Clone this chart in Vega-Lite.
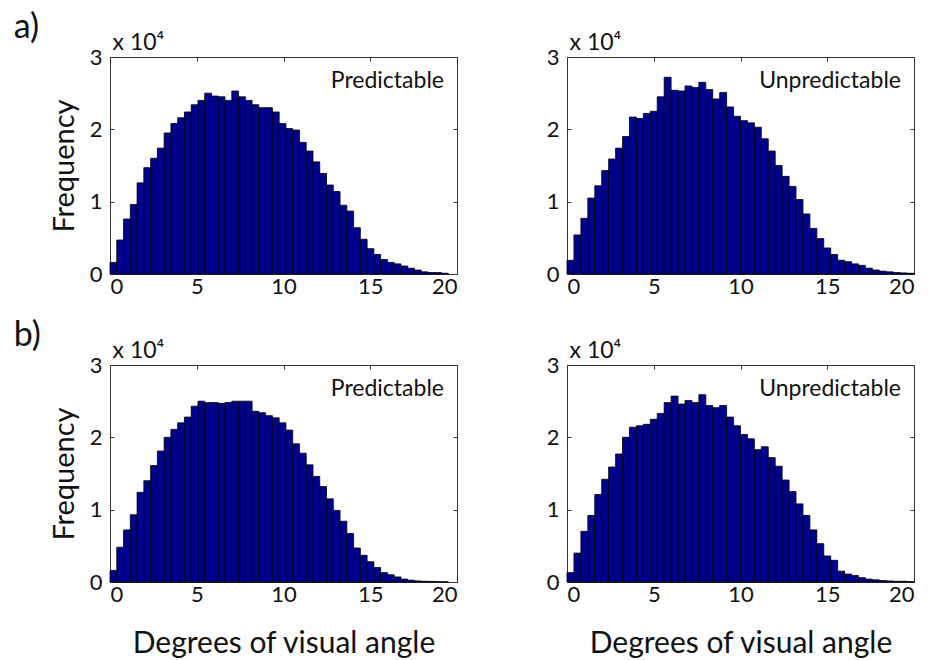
{
  "$schema": "https://vega.github.io/schema/vega-lite/v6.json",
  "padding": {"left": 13, "top": 10, "right": 5, "bottom": 0},
  "background": "white",
  "config": {
    "font": "Lato",
    "view": {"stroke": "#333333", "strokeWidth": 1},
    "axis": {"grid": false, "domain": false, "labelFont": "Lato", "labelFontSize": 22, "labelColor": "#111111", "tickColor": "#333333", "tickSize": -4, "titleFont": "Lato", "titleFontSize": 29, "titleFontWeight": "normal", "titleColor": "#111111"},
    "text": {"font": "Lato", "color": "#111111", "baseline": "alphabetic"}
  },
  "datasets": {
    "aP": [
      {"lo":0.0,"hi":0.39,"count":1600},{"lo":0.39,"hi":0.78,"count":4700},{"lo":0.78,"hi":1.17,"count":7600},{"lo":1.17,"hi":1.56,"count":9600},{"lo":1.56,"hi":1.95,"count":12600},
      {"lo":1.95,"hi":2.34,"count":14700},{"lo":2.34,"hi":2.73,"count":16000},{"lo":2.73,"hi":3.12,"count":17400},{"lo":3.12,"hi":3.51,"count":19500},{"lo":3.51,"hi":3.9,"count":20800},
      {"lo":3.9,"hi":4.29,"count":21600},{"lo":4.29,"hi":4.68,"count":22400},{"lo":4.68,"hi":5.07,"count":23400},{"lo":5.07,"hi":5.46,"count":24000},{"lo":5.46,"hi":5.85,"count":25000},
      {"lo":5.85,"hi":6.24,"count":24600},{"lo":6.24,"hi":6.63,"count":24500},{"lo":6.63,"hi":7.02,"count":24000},{"lo":7.02,"hi":7.41,"count":25300},{"lo":7.41,"hi":7.8,"count":24500},
      {"lo":7.8,"hi":8.19,"count":24000},{"lo":8.19,"hi":8.58,"count":23400},{"lo":8.58,"hi":8.97,"count":23000},{"lo":8.97,"hi":9.36,"count":23000},{"lo":9.36,"hi":9.75,"count":22400},
      {"lo":9.75,"hi":10.14,"count":20800},{"lo":10.14,"hi":10.53,"count":20100},{"lo":10.53,"hi":10.92,"count":19900},{"lo":10.92,"hi":11.31,"count":18200},{"lo":11.31,"hi":11.7,"count":17000},
      {"lo":11.7,"hi":12.09,"count":15500},{"lo":12.09,"hi":12.48,"count":13900},{"lo":12.48,"hi":12.87,"count":12300},{"lo":12.87,"hi":13.26,"count":11400},{"lo":13.26,"hi":13.65,"count":9500},
      {"lo":13.65,"hi":14.04,"count":8700},{"lo":14.04,"hi":14.43,"count":6400},{"lo":14.43,"hi":14.82,"count":4800},{"lo":14.82,"hi":15.21,"count":3500},{"lo":15.21,"hi":15.6,"count":2700},
      {"lo":15.6,"hi":15.99,"count":2000},{"lo":15.99,"hi":16.38,"count":1600},{"lo":16.38,"hi":16.77,"count":1400},{"lo":16.77,"hi":17.16,"count":1100},{"lo":17.16,"hi":17.55,"count":800},
      {"lo":17.55,"hi":17.94,"count":550},{"lo":17.94,"hi":18.33,"count":300},{"lo":18.33,"hi":18.72,"count":200},{"lo":18.72,"hi":19.11,"count":200},{"lo":19.11,"hi":19.5,"count":100}
    ],
    "aU": [
      {"lo":0.0,"hi":0.4,"count":1900},{"lo":0.4,"hi":0.8,"count":5400},{"lo":0.8,"hi":1.2,"count":7700},{"lo":1.2,"hi":1.6,"count":10500},{"lo":1.6,"hi":2.0,"count":12200},
      {"lo":2.0,"hi":2.4,"count":14300},{"lo":2.4,"hi":2.8,"count":15900},{"lo":2.8,"hi":3.2,"count":17400},{"lo":3.2,"hi":3.6,"count":19000},{"lo":3.6,"hi":4.0,"count":21700},
      {"lo":4.0,"hi":4.4,"count":21500},{"lo":4.4,"hi":4.8,"count":22200},{"lo":4.8,"hi":5.2,"count":22500},{"lo":5.2,"hi":5.6,"count":24500},{"lo":5.6,"hi":6.0,"count":27200},
      {"lo":6.0,"hi":6.4,"count":25400},{"lo":6.4,"hi":6.8,"count":25300},{"lo":6.8,"hi":7.2,"count":26000},{"lo":7.2,"hi":7.6,"count":25800},{"lo":7.6,"hi":8.0,"count":26500},
      {"lo":8.0,"hi":8.4,"count":25500},{"lo":8.4,"hi":8.8,"count":24200},{"lo":8.8,"hi":9.2,"count":25100},{"lo":9.2,"hi":9.6,"count":23100},{"lo":9.6,"hi":10.0,"count":21800},
      {"lo":10.0,"hi":10.4,"count":21200},{"lo":10.4,"hi":10.8,"count":20900},{"lo":10.8,"hi":11.2,"count":20300},{"lo":11.2,"hi":11.6,"count":18700},{"lo":11.6,"hi":12.0,"count":17000},
      {"lo":12.0,"hi":12.4,"count":15000},{"lo":12.4,"hi":12.8,"count":13500},{"lo":12.8,"hi":13.2,"count":12100},{"lo":13.2,"hi":13.6,"count":10300},{"lo":13.6,"hi":14.0,"count":8300},
      {"lo":14.0,"hi":14.4,"count":6300},{"lo":14.4,"hi":14.8,"count":4900},{"lo":14.8,"hi":15.2,"count":3600},{"lo":15.2,"hi":15.6,"count":2700},{"lo":15.6,"hi":16.0,"count":1900},
      {"lo":16.0,"hi":16.4,"count":1700},{"lo":16.4,"hi":16.8,"count":1400},{"lo":16.8,"hi":17.2,"count":1200},{"lo":17.2,"hi":17.6,"count":800},{"lo":17.6,"hi":18.0,"count":550},
      {"lo":18.0,"hi":18.4,"count":400},{"lo":18.4,"hi":18.8,"count":300},{"lo":18.8,"hi":19.2,"count":200},{"lo":19.2,"hi":19.6,"count":150},{"lo":19.6,"hi":20.0,"count":100}
    ],
    "bP": [
      {"lo":0.0,"hi":0.39,"count":1600},{"lo":0.39,"hi":0.78,"count":4800},{"lo":0.78,"hi":1.17,"count":7200},{"lo":1.17,"hi":1.56,"count":9300},{"lo":1.56,"hi":1.95,"count":12400},
      {"lo":1.95,"hi":2.34,"count":14000},{"lo":2.34,"hi":2.73,"count":16100},{"lo":2.73,"hi":3.12,"count":18100},{"lo":3.12,"hi":3.51,"count":20000},{"lo":3.51,"hi":3.9,"count":21100},
      {"lo":3.9,"hi":4.29,"count":22000},{"lo":4.29,"hi":4.68,"count":22800},{"lo":4.68,"hi":5.07,"count":24300},{"lo":5.07,"hi":5.46,"count":25000},{"lo":5.46,"hi":5.85,"count":24800},
      {"lo":5.85,"hi":6.24,"count":24800},{"lo":6.24,"hi":6.63,"count":24700},{"lo":6.63,"hi":7.02,"count":24800},{"lo":7.02,"hi":7.41,"count":25000},{"lo":7.41,"hi":7.8,"count":25000},
      {"lo":7.8,"hi":8.19,"count":25000},{"lo":8.19,"hi":8.58,"count":23600},{"lo":8.58,"hi":8.97,"count":23400},{"lo":8.97,"hi":9.36,"count":23000},{"lo":9.36,"hi":9.75,"count":22700},
      {"lo":9.75,"hi":10.14,"count":22000},{"lo":10.14,"hi":10.53,"count":21000},{"lo":10.53,"hi":10.92,"count":19100},{"lo":10.92,"hi":11.31,"count":17800},{"lo":11.31,"hi":11.7,"count":16200},
      {"lo":11.7,"hi":12.09,"count":14600},{"lo":12.09,"hi":12.48,"count":13200},{"lo":12.48,"hi":12.87,"count":11500},{"lo":12.87,"hi":13.26,"count":9900},{"lo":13.26,"hi":13.65,"count":8400},
      {"lo":13.65,"hi":14.04,"count":6700},{"lo":14.04,"hi":14.43,"count":4700},{"lo":14.43,"hi":14.82,"count":3700},{"lo":14.82,"hi":15.21,"count":2800},{"lo":15.21,"hi":15.6,"count":2000},
      {"lo":15.6,"hi":15.99,"count":1300},{"lo":15.99,"hi":16.38,"count":1000},{"lo":16.38,"hi":16.77,"count":700},{"lo":16.77,"hi":17.16,"count":400},{"lo":17.16,"hi":17.55,"count":250},
      {"lo":17.55,"hi":17.94,"count":150},{"lo":17.94,"hi":18.33,"count":100},{"lo":18.33,"hi":18.72,"count":80},{"lo":18.72,"hi":19.11,"count":50},{"lo":19.11,"hi":19.5,"count":30}
    ],
    "bU": [
      {"lo":0.0,"hi":0.4,"count":1300},{"lo":0.4,"hi":0.8,"count":4000},{"lo":0.8,"hi":1.2,"count":7000},{"lo":1.2,"hi":1.6,"count":9200},{"lo":1.6,"hi":2.0,"count":12100},
      {"lo":2.0,"hi":2.4,"count":14200},{"lo":2.4,"hi":2.8,"count":15900},{"lo":2.8,"hi":3.2,"count":17700},{"lo":3.2,"hi":3.6,"count":20000},{"lo":3.6,"hi":4.0,"count":21400},
      {"lo":4.0,"hi":4.4,"count":21600},{"lo":4.4,"hi":4.8,"count":21800},{"lo":4.8,"hi":5.2,"count":22500},{"lo":5.2,"hi":5.6,"count":23300},{"lo":5.6,"hi":6.0,"count":24800},
      {"lo":6.0,"hi":6.4,"count":25700},{"lo":6.4,"hi":6.8,"count":24600},{"lo":6.8,"hi":7.2,"count":25100},{"lo":7.2,"hi":7.6,"count":24800},{"lo":7.6,"hi":8.0,"count":25900},
      {"lo":8.0,"hi":8.4,"count":24400},{"lo":8.4,"hi":8.8,"count":24100},{"lo":8.8,"hi":9.2,"count":24400},{"lo":9.2,"hi":9.6,"count":22800},{"lo":9.6,"hi":10.0,"count":21600},
      {"lo":10.0,"hi":10.4,"count":20400},{"lo":10.4,"hi":10.8,"count":19800},{"lo":10.8,"hi":11.2,"count":18300},{"lo":11.2,"hi":11.6,"count":18700},{"lo":11.6,"hi":12.0,"count":17200},
      {"lo":12.0,"hi":12.4,"count":16000},{"lo":12.4,"hi":12.8,"count":14100},{"lo":12.8,"hi":13.2,"count":12500},{"lo":13.2,"hi":13.6,"count":10800},{"lo":13.6,"hi":14.0,"count":9200},
      {"lo":14.0,"hi":14.4,"count":7200},{"lo":14.4,"hi":14.8,"count":5300},{"lo":14.8,"hi":15.2,"count":3600},{"lo":15.2,"hi":15.6,"count":3000},{"lo":15.6,"hi":16.0,"count":1500},
      {"lo":16.0,"hi":16.4,"count":1100},{"lo":16.4,"hi":16.8,"count":900},{"lo":16.8,"hi":17.2,"count":600},{"lo":17.2,"hi":17.6,"count":400},{"lo":17.6,"hi":18.0,"count":300},
      {"lo":18.0,"hi":18.4,"count":200},{"lo":18.4,"hi":18.8,"count":150},{"lo":18.8,"hi":19.2,"count":100},{"lo":19.2,"hi":19.6,"count":100},{"lo":19.6,"hi":20.0,"count":50}
    ]
  },
  "bounds": "flush",
  "columns": 2,
  "spacing": {"row": 91, "column": 110},
  "concat": [
    {
      "width": 347, "height": 217,
      "layer": [
        {"data": {"name": "aP"}, "mark": {"type": "bar", "fill": "#00008F", "stroke": "#000000", "strokeWidth": 0.8},
         "encoding": {
           "x": {"field": "lo", "type": "quantitative", "scale": {"domain": [0, 20], "nice": false}, "axis": {"values": [0, 5, 10, 15, 20], "title": null, "labelPadding": 6}},
           "x2": {"field": "hi"},
           "y": {"field": "count", "type": "quantitative", "scale": {"domain": [0, 30000], "nice": false}, "axis": {"values": [0, 10000, 20000, 30000], "labelExpr": "datum.value / 10000", "title": "Frequency", "labelPadding": 12, "titlePadding": 10}},
           "y2": {"datum": 0}
         }},
        {"data": {"values": [{"label": "Predictable"}]}, "mark": {"type": "text", "align": "right", "fontSize": 23},
         "encoding": {
           "x": {"datum": 19.25, "type": "quantitative", "axis": {"orient": "top", "labels": false, "title": null, "values": [0, 5, 10, 15, 20]}},
           "y": {"datum": 25700, "type": "quantitative", "axis": {"orient": "right", "labels": false, "title": null, "values": [0, 10000, 20000, 30000]}},
           "text": {"field": "label"}
         }},
        {"data": {"values": [{"label": "x 10⁴", "px": 0.15, "py": 30970}]}, "mark": {"type": "text", "align": "left", "fontSize": 23},
         "encoding": {
           "x": {"field": "px", "type": "quantitative", "axis": null},
           "y": {"field": "py", "type": "quantitative", "axis": null},
           "text": {"field": "label"}
         }},
        {"data": {"values": [{"label": "a)", "px": -5.55, "py": 32600}]}, "mark": {"type": "text", "align": "left", "fontSize": 34},
         "encoding": {
           "x": {"field": "px", "type": "quantitative", "axis": null},
           "y": {"field": "py", "type": "quantitative", "axis": null},
           "text": {"field": "label"}
         }}
      ],
      "resolve": {"axis": {"x": "independent", "y": "independent"}}
    },
    {
      "width": 347, "height": 217,
      "layer": [
        {"data": {"name": "aU"}, "mark": {"type": "bar", "fill": "#00008F", "stroke": "#000000", "strokeWidth": 0.8},
         "encoding": {
           "x": {"field": "lo", "type": "quantitative", "scale": {"domain": [0, 20], "nice": false}, "axis": {"values": [0, 5, 10, 15, 20], "title": null, "labelPadding": 6}},
           "x2": {"field": "hi"},
           "y": {"field": "count", "type": "quantitative", "scale": {"domain": [0, 30000], "nice": false}, "axis": {"values": [0, 10000, 20000, 30000], "labelExpr": "datum.value / 10000", "title": null, "labelPadding": 12}},
           "y2": {"datum": 0}
         }},
        {"data": {"values": [{"label": "Unpredictable"}]}, "mark": {"type": "text", "align": "right", "fontSize": 23},
         "encoding": {
           "x": {"datum": 19.25, "type": "quantitative", "axis": {"orient": "top", "labels": false, "title": null, "values": [0, 5, 10, 15, 20]}},
           "y": {"datum": 25700, "type": "quantitative", "axis": {"orient": "right", "labels": false, "title": null, "values": [0, 10000, 20000, 30000]}},
           "text": {"field": "label"}
         }},
        {"data": {"values": [{"label": "x 10⁴", "px": 0.15, "py": 30970}]}, "mark": {"type": "text", "align": "left", "fontSize": 23},
         "encoding": {
           "x": {"field": "px", "type": "quantitative", "axis": null},
           "y": {"field": "py", "type": "quantitative", "axis": null},
           "text": {"field": "label"}
         }}
      ],
      "resolve": {"axis": {"x": "independent", "y": "independent"}}
    },
    {
      "width": 347, "height": 217,
      "layer": [
        {"data": {"name": "bP"}, "mark": {"type": "bar", "fill": "#00008F", "stroke": "#000000", "strokeWidth": 0.8},
         "encoding": {
           "x": {"field": "lo", "type": "quantitative", "scale": {"domain": [0, 20], "nice": false}, "axis": {"values": [0, 5, 10, 15, 20], "title": "Degrees of visual angle", "titleFontSize": 30, "labelPadding": 6, "titlePadding": 23}},
           "x2": {"field": "hi"},
           "y": {"field": "count", "type": "quantitative", "scale": {"domain": [0, 30000], "nice": false}, "axis": {"values": [0, 10000, 20000, 30000], "labelExpr": "datum.value / 10000", "title": "Frequency", "labelPadding": 12, "titlePadding": 10}},
           "y2": {"datum": 0}
         }},
        {"data": {"values": [{"label": "Predictable"}]}, "mark": {"type": "text", "align": "right", "fontSize": 23},
         "encoding": {
           "x": {"datum": 19.25, "type": "quantitative", "axis": {"orient": "top", "labels": false, "title": null, "values": [0, 5, 10, 15, 20]}},
           "y": {"datum": 25700, "type": "quantitative", "axis": {"orient": "right", "labels": false, "title": null, "values": [0, 10000, 20000, 30000]}},
           "text": {"field": "label"}
         }},
        {"data": {"values": [{"label": "x 10⁴", "px": 0.15, "py": 30970}]}, "mark": {"type": "text", "align": "left", "fontSize": 23},
         "encoding": {
           "x": {"field": "px", "type": "quantitative", "axis": null},
           "y": {"field": "py", "type": "quantitative", "axis": null},
           "text": {"field": "label"}
         }},
        {"data": {"values": [{"label": "b)", "px": -5.55, "py": 32600}]}, "mark": {"type": "text", "align": "left", "fontSize": 34},
         "encoding": {
           "x": {"field": "px", "type": "quantitative", "axis": null},
           "y": {"field": "py", "type": "quantitative", "axis": null},
           "text": {"field": "label"}
         }}
      ],
      "resolve": {"axis": {"x": "independent", "y": "independent"}}
    },
    {
      "width": 347, "height": 217,
      "layer": [
        {"data": {"name": "bU"}, "mark": {"type": "bar", "fill": "#00008F", "stroke": "#000000", "strokeWidth": 0.8},
         "encoding": {
           "x": {"field": "lo", "type": "quantitative", "scale": {"domain": [0, 20], "nice": false}, "axis": {"values": [0, 5, 10, 15, 20], "title": "Degrees of visual angle", "titleFontSize": 30, "labelPadding": 6, "titlePadding": 23}},
           "x2": {"field": "hi"},
           "y": {"field": "count", "type": "quantitative", "scale": {"domain": [0, 30000], "nice": false}, "axis": {"values": [0, 10000, 20000, 30000], "labelExpr": "datum.value / 10000", "title": null, "labelPadding": 12}},
           "y2": {"datum": 0}
         }},
        {"data": {"values": [{"label": "Unpredictable"}]}, "mark": {"type": "text", "align": "right", "fontSize": 23},
         "encoding": {
           "x": {"datum": 19.25, "type": "quantitative", "axis": {"orient": "top", "labels": false, "title": null, "values": [0, 5, 10, 15, 20]}},
           "y": {"datum": 25700, "type": "quantitative", "axis": {"orient": "right", "labels": false, "title": null, "values": [0, 10000, 20000, 30000]}},
           "text": {"field": "label"}
         }},
        {"data": {"values": [{"label": "x 10⁴", "px": 0.15, "py": 30970}]}, "mark": {"type": "text", "align": "left", "fontSize": 23},
         "encoding": {
           "x": {"field": "px", "type": "quantitative", "axis": null},
           "y": {"field": "py", "type": "quantitative", "axis": null},
           "text": {"field": "label"}
         }}
      ],
      "resolve": {"axis": {"x": "independent", "y": "independent"}}
    }
  ]
}
